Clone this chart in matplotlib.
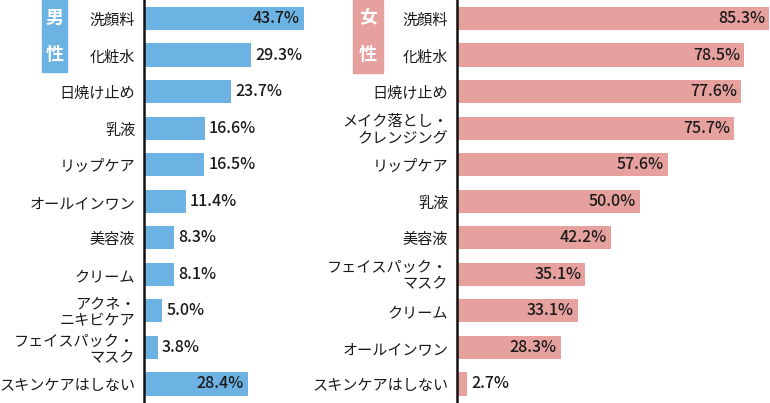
import matplotlib
matplotlib.use("Agg")
import matplotlib.pyplot as plt
from matplotlib.patches import Rectangle

plt.rcParams['font.family'] = ['Noto Sans CJK JP', 'DejaVu Sans']

male_categories = ["洗顔料", "化粧水", "日焼け止め", "乳液", "リップケア", "オールインワン",
                   "美容液", "クリーム", "アクネ・\nニキビケア", "フェイスパック・\nマスク", "スキンケアはしない"]
male_values = [43.7, 29.3, 23.7, 16.6, 16.5, 11.4, 8.3, 8.1, 5.0, 3.8, 28.4]
male_inside = [True, False, False, False, False, False, False, False, False, False, True]

female_categories = ["洗顔料", "化粧水", "日焼け止め", "メイク落とし・\nクレンジング", "リップケア", "乳液",
                     "美容液", "フェイスパック・\nマスク", "クリーム", "オールインワン", "スキンケアはしない"]
female_values = [85.3, 78.5, 77.6, 75.7, 57.6, 50.0, 42.2, 35.1, 33.1, 28.3, 2.7]
female_inside = [True, True, True, True, True, True, True, True, True, True, False]

BLUE = "#6cb3e3"
PINK = "#e6a19e"
TXT = "#1a1a1a"

W, H = 770, 403
fig = plt.figure(figsize=(W / 100, H / 100), dpi=100)

def px_axes(x0, x1):
    return fig.add_axes([x0 / W, 0, (x1 - x0) / W, 1])

def draw(ax, cats, vals, inside, color, xmax):
    y = list(range(len(cats)))
    ax.barh(y, vals, height=0.63, color=color)
    ax.set_ylim(10.52, -0.505)
    ax.set_xlim(0, xmax)
    ax.set_yticks(y)
    ax.set_yticklabels(cats, fontsize=10.9, color=TXT, linespacing=0.95)
    ax.tick_params(axis='y', length=0, pad=6.3)
    ax.set_xticks([])
    for s in ['top', 'right', 'bottom']:
        ax.spines[s].set_visible(False)
    ax.spines['left'].set_linewidth(1.8)
    ax.spines['left'].set_color('#111111')
    ax.patch.set_alpha(0)
    for yi, v, ins in zip(y, vals, inside):
        lab = f"{v:.1f}%"
        if ins:
            ax.annotate(lab, (v, yi), xytext=(-3, 0), textcoords='offset points',
                        ha='right', va='center', fontsize=11.5, color=TXT, fontweight='medium')
        else:
            ax.annotate(lab, (v, yi), xytext=(3, 0), textcoords='offset points',
                        ha='left', va='center', fontsize=11.5, color=TXT, fontweight='medium')

axL = px_axes(144, 310)
draw(axL, male_categories, male_values, male_inside, BLUE, (310 - 144) / 3.66)
axR = px_axes(457, 770)
draw(axR, female_categories, female_values, female_inside, PINK, (770 - 457) / 3.66)

def gender_box(x0, x1, y1, color, chars):
    fig.patches.append(Rectangle((x0 / W, 1 - y1 / H), (x1 - x0) / W, y1 / H,
                                 transform=fig.transFigure, color=color, zorder=0))
    cx = (x0 + x1) / 2 / W
    fig.text(cx, 1 - 18 / H, chars[0], ha='center', va='center', color='white',
             fontsize=13, fontweight='bold')
    fig.text(cx, 1 - 54 / H, chars[1], ha='center', va='center', color='white',
             fontsize=13, fontweight='bold')

gender_box(42, 67, 72, BLUE, "男性")
gender_box(353, 383, 73, PINK, "女性")

fig.savefig("out.png", dpi=100)
